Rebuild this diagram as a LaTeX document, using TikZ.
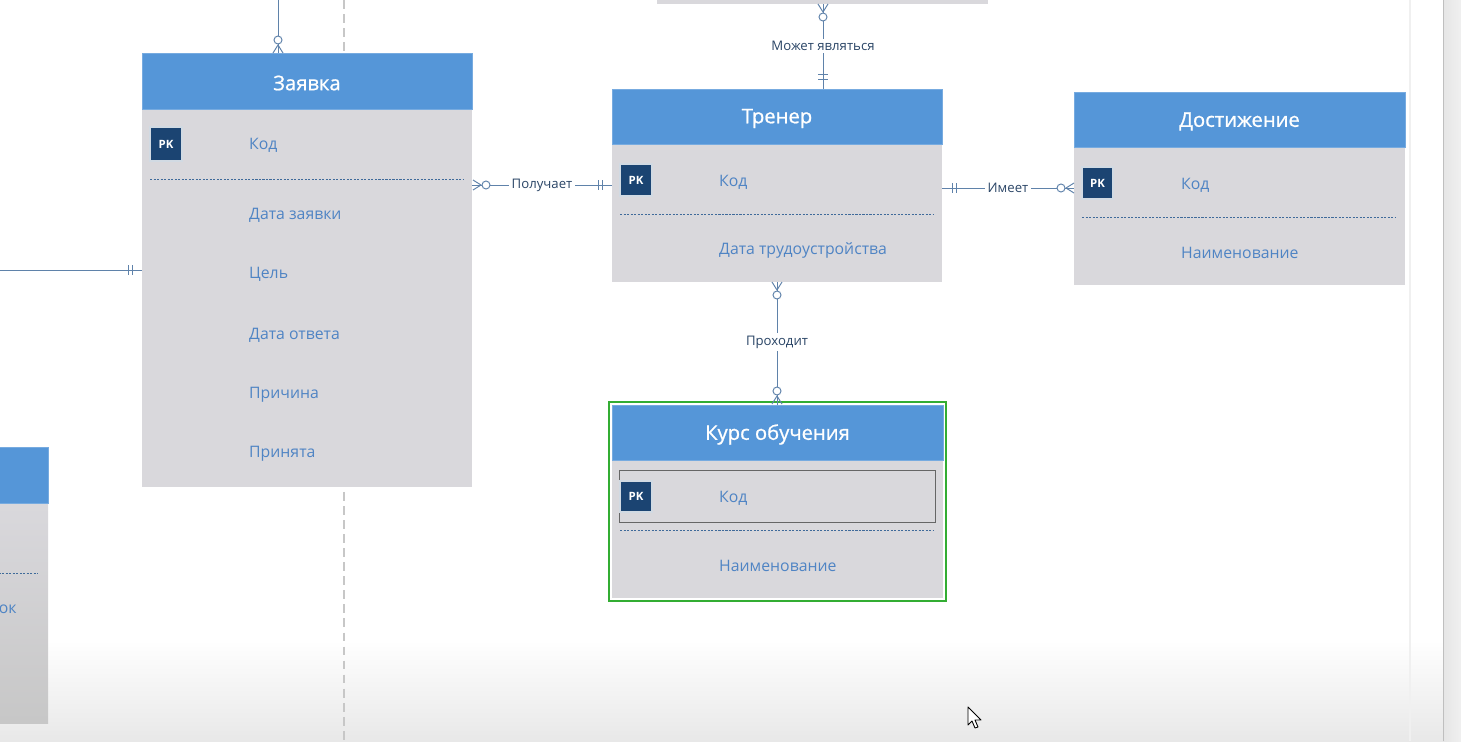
\documentclass[tikz,border=0pt]{standalone}
\usepackage{fontspec}
\setmainfont{Open Sans}
\newfontfamily\ttlfont[FakeBold=0.9]{Open Sans}
\usetikzlibrary{fit,calc}
\definecolor{hdr}{HTML}{5596D8}
\definecolor{bodyg}{HTML}{D9D8DC}
\definecolor{fld}{HTML}{4F84C4}
\definecolor{pkc}{HTML}{1B4472}
\definecolor{conn}{HTML}{5F82AA}
\definecolor{lbl}{HTML}{2A4566}
\definecolor{sep}{HTML}{3F6A9A}
\tikzset{
  hbox/.style={fit={#1}, inner sep=0pt, fill=hdr, draw=hdr!80!white, line width=0.4pt},
  bbox/.style={fit={#1}, inner sep=0pt, fill=bodyg},
  ttl/.style={text=white, font=\ttlfont\fontsize{11.5}{13}\selectfont, yshift=-0.04cm},
  fname/.style={text=fld, font=\fontsize{9}{11}\selectfont, anchor=west, yshift=-0.04cm},
  pkbox/.style={fit={#1}, inner sep=0pt, fill=pkc, draw=white!80!pkc, line width=0.6pt},
  pktxt/.style={text=white, font=\fontsize{6.5}{8}\selectfont\bfseries},
  sepline/.style={draw=sep, dash pattern=on 1.2pt off 0.8pt, line width=0.5pt},
  cn/.style={draw=conn, line width=0.55pt},
  rel/.style={text=lbl, fill=white, inner sep=1.5pt, font=\fontsize{7.5}{9}\selectfont},
}
\begin{document}
\begin{tikzpicture}[x=0.02cm,y=-0.02cm]
\useasboundingbox (0,0) rectangle (1461,741);
\clip (0,0) rectangle (1461,741);
\fill[white] (0,0) rectangle (1461,741);
% bottom fade
\shade[top color=white, bottom color=black!9] (0,640) rectangle (1443,741);
% right scroll strip
\draw[black!6, line width=0.8pt] (1410,0) -- (1410,741);
\shade[left color=black!10, right color=black!6] (1443,0) rectangle (1461,741);
\draw[black!25, line width=0.5pt] (1443,0) -- (1443,741);
% dashed separator
\draw[black!22, line width=0.9pt, dash pattern=on 5pt off 3pt] (344,0) -- (344,741);

% top partial box
\node[bbox={(657,-10)(988,4)}] (topbox) {};

% ---------------- Заявка
\node[hbox={(142,53)(472,109)}] (zayH) {};
\node[ttl] at (zayH) {Заявка};
\node[bbox={(142,110)(472,487)}] (zayB) {};
\node[pkbox={(150,127)(182,161)}] (zayPK) {};
\node[pktxt] at (zayPK) {PK};
\node[fname] at (243,143) {Код};
\draw[sepline] (150,179) -- (463,179);
\node[fname] at (243,213) {Дата заявки};
\node[fname] at (243,272) {Цель};
\node[fname] at (243,333) {Дата ответа};
\node[fname] at (243,393) {Причина};
\node[fname] at (243,452) {Принята};

% ---------------- Тренер
\node[hbox={(612,89)(942,144)}] (trH) {};
\node[ttl] at (trH) {Тренер};
\node[bbox={(612,145)(942,282)}] (trB) {};
\node[pkbox={(620,164)(652,196)}] (trPK) {};
\node[pktxt] at (trPK) {PK};
\node[fname] at (713,180) {Код};
\draw[sepline] (620,214) -- (934,214);
\node[fname] at (713,248) {Дата трудоустройства};

% ---------------- Достижение
\node[hbox={(1074,92)(1405,147)}] (dsH) {};
\node[ttl] at (dsH) {Достижение};
\node[bbox={(1074,148)(1405,285)}] (dsB) {};
\node[pkbox={(1082,167)(1113,199)}] (dsPK) {};
\node[pktxt] at (dsPK) {PK};
\node[fname] at (1175,183) {Код};
\draw[sepline] (1082,217) -- (1396,217);
\node[fname] at (1175,251) {Наименование};

% ---------------- Курс обучения
\node[bbox={(612,461)(943,598)}] (kuB) {};
\node[hbox={(612,405)(943,460)}] (kuH) {};
\node[ttl] at (kuH) {Курс обучения};
\node[fit={(609,402)(946,601)}, inner sep=0pt, draw=green!60!black!80, line width=0.9pt] (kuSel) {};
\node[fit={(619,470)(935,522)}, inner sep=0pt, draw=black!60, line width=0.5pt] (kuRow) {};
\node[pkbox={(620,481)(652,512)}] (kuPK) {};
\node[pktxt] at (kuPK) {PK};
\node[fname] at (713,496) {Код};
\draw[sepline] (620,530) -- (934,530);
\node[fname] at (713,564) {Наименование};

% ---------------- partial left-bottom box
\node[hbox={(-10,447)(48,503)}] (lbH) {};
\shade[top color=bodyg, bottom color=black!22] (-10,504) rectangle (48,723);
\draw[sepline] (-5,573) -- (38,573);
\node[fname, anchor=east, inner sep=0pt] (lbT) at (17,607) {ок};

% ---------------- connectors
% top into Заявка
\coordinate (topA) at (278,0);
\coordinate (zayTop) at (278,53);
\draw[cn] (topA) -- (zayTop);
\draw[cn] (278,45) -- (273,53) (278,45) -- (283,53);
\draw[cn, fill=white] (278,40) circle (4);

% left line into Заявка
\coordinate (leftA) at (0,270);
\coordinate (zayL) at (142,270);
\draw[cn] (leftA) -- (zayL);
\draw[cn] (128,265) -- (128,275) (132,265) -- (132,275);

% Может являться
\coordinate (tbS) at (823,4);
\coordinate (trN) at (823,89);
\draw[cn] (tbS) -- (trN);
\draw[cn] (823,12) -- (818,4) (823,12) -- (828,4);
\draw[cn, fill=white] (823,17) circle (4);
\draw[cn] (818,74) -- (828,74) (818,79) -- (828,79);
\node[rel] at (823,46) {Может являться};

% Получает
\coordinate (zayE) at (472,185);
\coordinate (trW) at (612,185);
\draw[cn] (zayE) -- (trW);
\draw[cn] (481,185) -- (473,180) (481,185) -- (473,190);
\draw[cn, fill=white] (486,185) circle (4);
\draw[cn] (598,180) -- (598,190) (602,180) -- (602,190);
\node[rel] at (542,185) {Получает};

% Имеет
\coordinate (trE) at (942,188);
\coordinate (dsW) at (1074,188);
\draw[cn] (trE) -- (dsW);
\draw[cn] (952,183) -- (952,193) (956,183) -- (956,193);
\draw[cn] (1066,188) -- (1074,183) (1066,188) -- (1074,193);
\draw[cn, fill=white] (1061,188) circle (4);
\node[rel] at (1008,188) {Имеет};

% Проходит
\coordinate (trS) at (777,282);
\coordinate (kuN) at (777,405);
\draw[cn] (trS) -- (kuN);
\draw[cn] (777,290) -- (772,282) (777,290) -- (782,282);
\draw[cn, fill=white] (777,295) circle (4);
\draw[cn] (777,396) -- (772,404) (777,396) -- (782,404);
\draw[cn, fill=white] (777,391) circle (4);
\node[rel] at (777,342) {Проходит};

% mouse cursor
\draw[black, fill=white, line width=0.5pt, line join=round]
  (968,707) -- (968,725) -- (972,721) -- (975,728) -- (978,727) -- (975,720) -- (981,720) -- cycle;
\end{tikzpicture}
\end{document}
